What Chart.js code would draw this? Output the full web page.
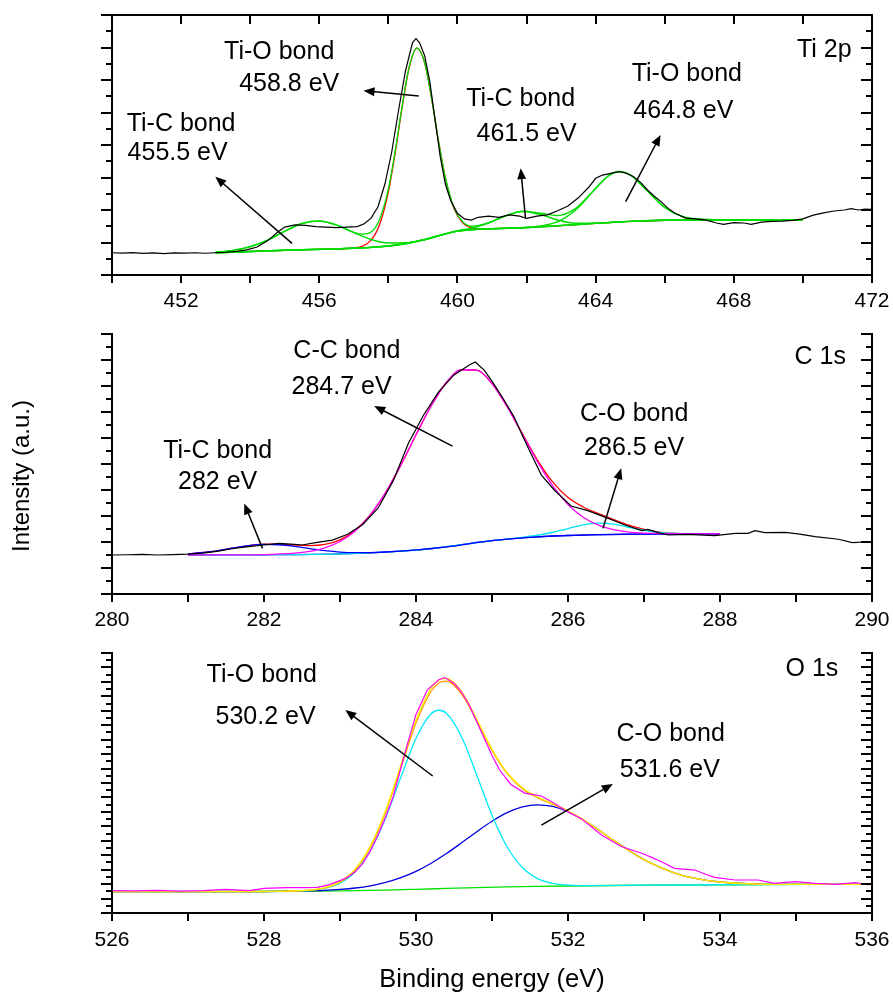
<!DOCTYPE html>
<html>
<head>
<meta charset="utf-8">
<script src="https://cdn.jsdelivr.net/npm/chart.js@4.4.1/dist/chart.umd.min.js"></script>
<style>
  html, body { margin: 0; padding: 0; background: #fff; }
  #wrap { position: relative; width: 893px; height: 994px; }
  canvas { position: absolute; left: 0; }
</style>
</head>
<body>
<div id="wrap">
  <canvas id="ti2p" width="893" height="320" style="top:0px"></canvas>
  <canvas id="c1s" width="893" height="320" style="top:320px"></canvas>
  <canvas id="o1s" width="893" height="354" style="top:640px"></canvas>
</div>
<script>
// ---- Ti 2p : [binding energy, intensity] ----
const ti2pRaw = [[450,1.37],[450.3,1.35],[450.6,1.38],[450.9,1.33],[451.2,1.36],[451.5,1.32],[451.8,1.36],[452.1,1.35],[452.4,1.37],[452.7,1.34],[453,1.37],[453.3,1.4],[453.6,1.45],[453.9,1.55],[454.2,1.72],[454.5,2.1],[454.8,2.65],[455,2.95],[455.3,3.08],[455.6,3.05],[455.9,2.98],[456.2,2.95],[456.5,2.92],[456.8,2.95],[457.1,2.98],[457.3,3.15],[457.5,3.5],[457.7,4.2],[457.9,5.6],[458.1,7.6],[458.3,10.2],[458.5,12.6],[458.7,14.3],[458.8,14.55],[458.9,14.3],[459.05,13.5],[459.2,11.9],[459.35,9.6],[459.5,7.3],[459.65,5.6],[459.8,4.6],[460,3.8],[460.2,3.45],[460.4,3.38],[460.6,3.55],[460.9,3.62],[461.2,3.55],[461.5,3.7],[461.8,3.62],[462,3.48],[462.3,3.62],[462.6,3.7],[462.9,3.95],[463.2,4.25],[463.5,4.75],[463.8,5.4],[464,5.95],[464.2,6.15],[464.5,6.28],[464.7,6.36],[464.9,6.25],[465.1,6.05],[465.3,5.7],[465.5,5.23],[465.7,4.85],[465.9,4.5],[466.1,4.1],[466.3,3.8],[466.6,3.5],[466.9,3.45],[467.2,3.38],[467.5,3.2],[467.7,3.12],[468,3.22],[468.3,3.2],[468.5,3.12],[468.8,3.25],[469.1,3.3],[469.4,3.32],[469.7,3.36],[470,3.45],[470.3,3.68],[470.6,3.82],[470.9,3.94],[471.2,4.0],[471.4,4.08],[471.6,4.0],[471.8,4.06],[472,4.04]];
const ti2pBackground = [[453,1.37],[454,1.45],[455,1.52],[456,1.58],[457,1.65],[457.5,1.7],[458,1.78],[458.5,1.92],[459,2.15],[459.5,2.45],[460,2.7],[460.5,2.8],[461,2.85],[461.5,2.88],[462,2.92],[462.5,2.97],[463,3.04],[463.5,3.11],[464,3.18],[464.5,3.25],[465,3.3],[465.5,3.34],[466,3.37],[467,3.38],[468,3.38],[469,3.38],[470,3.38]];
const ti2pTiO1 = [[453,1.37],[454,1.45],[455,1.52],[456,1.58],[457,1.67],[457.5,2.15],[457.75,3.12],[458,5.11],[458.2,7.54],[458.4,10.33],[458.6,12.74],[458.83,13.96],[459.05,13.06],[459.25,10.89],[459.45,8.26],[459.65,5.98],[459.9,4.09],[460.15,3.21],[460.4,2.9],[460.7,2.83],[461,2.85],[462,2.92],[463,3.04],[464,3.18],[465,3.3],[466,3.37],[467,3.38],[468,3.38],[470,3.38]];
const ti2pTiC1 = [[453,1.4],[453.5,1.51],[454,1.74],[454.5,2.14],[455,2.69],[455.5,3.17],[456,3.32],[456.5,3.07],[457,2.61],[457.5,2.19],[458,1.97],[458.5,1.98],[459,2.16],[459.5,2.45],[460,2.7],[461,2.85],[462,2.92],[463,3.04],[464,3.18],[465,3.3],[466,3.37],[468,3.38],[470,3.38]];
const ti2pTiC2 = [[453,1.37],[455,1.52],[457,1.65],[458,1.78],[459,2.15],[460,2.72],[460.4,2.88],[460.9,3.2],[461.4,3.65],[461.9,3.91],[462.4,3.72],[462.9,3.39],[463.4,3.19],[463.9,3.18],[464.5,3.25],[465,3.3],[466,3.37],[468,3.38],[470,3.38]];
const ti2pTiO2 = [[453,1.37],[455,1.52],[457,1.65],[458,1.78],[459,2.15],[460,2.7],[461,2.85],[462,2.92],[462.5,3.05],[463,3.38],[463.5,4.15],[464,5.34],[464.4,6.14],[464.68,6.37],[465,6.16],[465.5,5.17],[466,4.16],[466.5,3.61],[467,3.43],[468,3.38],[470,3.38]];
const ti2pEnvelope = [[453,1.4],[453.5,1.51],[454,1.74],[454.5,2.14],[455,2.69],[455.5,3.17],[456,3.32],[456.5,3.07],[457,2.63],[457.25,2.51],[457.5,2.64],[457.75,3.45],[458,5.3],[458.2,7.67],[458.4,10.41],[458.6,12.79],[458.83,13.98],[459.05,13.07],[459.25,10.89],[459.45,8.26],[459.65,6.0],[459.9,4.13],[460.15,3.28],[460.4,3.0],[460.9,3.21],[461.4,3.64],[461.9,3.93],[462.4,3.8],[462.9,3.66],[463.4,4.07],[463.9,5.09],[464.4,6.16],[464.68,6.37],[465,6.16],[465.5,5.17],[466,4.16],[466.5,3.61],[467,3.43],[468,3.38],[470,3.38]];
const ti2pTickLabels = [452, 456, 460, 464, 468, 472];

// ---- C 1s ----
const c1sRaw = [[280,3.0],[280.2,3.02],[280.4,3.05],[280.6,3.0],[280.8,3.03],[281,3.06],[281.2,3.14],[281.4,3.3],[281.6,3.5],[281.8,3.65],[282,3.77],[282.2,3.9],[282.4,3.82],[282.5,3.77],[282.7,3.97],[282.9,4.15],[283.1,4.6],[283.3,5.35],[283.5,6.6],[283.7,8.7],[283.9,11.6],[284.1,13.77],[284.3,15.56],[284.5,16.85],[284.7,17.62],[284.78,17.85],[284.9,17.2],[285.03,16.1],[285.15,15.0],[285.29,13.64],[285.4,12.2],[285.51,10.82],[285.65,9.15],[285.82,8.0],[286.04,6.77],[286.26,6.41],[286.53,5.82],[286.75,5.31],[286.97,4.87],[287.05,4.97],[287.2,4.7],[287.32,4.54],[287.58,4.59],[287.93,4.49],[288.2,4.67],[288.37,4.67],[288.46,4.87],[288.59,4.72],[288.86,4.74],[289.05,4.6],[289.25,4.41],[289.56,4.21],[289.74,3.95],[289.9,4.0],[290,4.03]];
const c1sBackground = [[281,3.0],[282,3.02],[283,3.09],[283.4,3.17],[283.8,3.3],[284,3.38],[284.2,3.48],[284.4,3.62],[284.6,3.8],[284.8,3.97],[285,4.1],[285.2,4.22],[285.4,4.32],[285.6,4.4],[285.8,4.46],[286,4.5],[286.4,4.57],[286.8,4.6],[287,4.61],[287.5,4.62],[288,4.62]];
const c1sTiC = [[281,3.09],[281.3,3.26],[281.6,3.54],[281.8,3.72],[282,3.82],[282.2,3.79],[282.4,3.67],[282.6,3.49],[282.8,3.33],[283,3.22],[283.2,3.18],[283.4,3.19],[283.8,3.3],[284.4,3.62],[285,4.1],[285.6,4.4],[286,4.5],[287,4.61],[288,4.62]];
const c1sCC = [[281,3.0],[281.6,3.01],[282,3.03],[282.4,3.14],[282.6,3.28],[282.8,3.55],[283,4.04],[283.2,4.85],[283.4,6.09],[283.6,7.8],[283.8,9.91],[284,12.25],[284.2,14.48],[284.4,16.27],[284.6,17.25],[284.8,17.22],[285,16.18],[285.2,14.41],[285.4,12.28],[285.6,10.16],[285.8,8.31],[286,6.89],[286.2,5.91],[286.4,5.3],[286.6,4.95],[286.8,4.76],[287,4.68],[287.5,4.62],[288,4.62]];
const c1sCO = [[281,3.0],[282,3.02],[283,3.09],[284,3.38],[284.6,3.8],[285,4.1],[285.4,4.36],[285.6,4.52],[285.8,4.75],[286,5.03],[286.2,5.32],[286.4,5.45],[286.6,5.37],[286.8,5.13],[287,4.9],[287.2,4.73],[287.5,4.64],[288,4.62]];
const c1sEnvelope = [[281,3.09],[281.3,3.26],[281.6,3.54],[281.8,3.72],[282,3.84],[282.2,3.84],[282.4,3.77],[282.6,3.72],[282.8,3.81],[283,4.17],[283.2,4.91],[283.4,6.11],[283.6,7.8],[283.8,9.91],[284,12.25],[284.2,14.48],[284.4,16.27],[284.6,17.25],[284.8,17.22],[285,16.18],[285.2,14.41],[285.4,12.32],[285.6,10.28],[285.8,8.6],[286,7.42],[286.2,6.69],[286.4,6.18],[286.6,5.73],[286.8,5.29],[287,4.97],[287.2,4.75],[287.5,4.64],[288,4.62]];
const c1sTickLabels = [280, 282, 284, 286, 288, 290];

// ---- O 1s ----
const o1sRaw = [[526,3.09],[526.3,3.05],[526.6,3.12],[526.9,3.03],[527.2,3.1],[527.5,3.28],[527.8,3.09],[528,3.42],[528.3,3.51],[528.5,3.5],[528.7,3.55],[528.85,3.9],[529,4.48],[529.1,4.94],[529.2,5.7],[529.3,6.88],[529.4,8.6],[529.5,10.8],[529.6,13.3],[529.7,16.1],[529.85,22.0],[530,27.5],[530.15,30.9],[530.3,32.3],[530.38,32.6],[530.5,31.8],[530.6,30.6],[530.7,28.8],[530.85,25.3],[531,21.8],[531.1,19.8],[531.25,17.8],[531.43,16.6],[531.65,16.2],[531.82,15.2],[532,14.0],[532.17,13.1],[532.3,12.0],[532.44,10.8],[532.7,9.2],[532.97,8.27],[533.1,7.7],[533.23,7.1],[533.4,6.19],[533.67,5.95],[533.8,5.4],[533.93,4.94],[534.2,4.57],[534.5,4.57],[534.72,4.11],[534.99,4.34],[535.25,4.11],[535.52,3.97],[535.78,4.2],[535.96,3.88]];
const o1sBackground = [[526,2.96],[527,2.97],[528,2.98],[529,3.05],[529.6,3.17],[530,3.28],[530.4,3.4],[530.8,3.52],[531.2,3.61],[531.6,3.68],[532,3.74],[532.6,3.81],[533,3.85],[534,3.91],[535,3.95],[536,3.97]];
const o1sTiO = [[526,2.96],[528,2.98],[528.5,3.06],[528.8,3.41],[529,4.13],[529.2,5.72],[529.4,8.65],[529.6,13.15],[529.8,18.78],[530,24.2],[530.2,27.59],[530.3,28.07],[530.4,27.65],[530.6,24.38],[530.8,19.08],[531,13.55],[531.2,9.14],[531.4,6.29],[531.6,4.76],[531.8,4.1],[532,3.86],[532.3,3.79],[533,3.85],[534,3.91],[536,3.97]];
const o1sCO = [[526,2.96],[528,2.98],[528.5,3.04],[528.8,3.13],[529,3.26],[529.2,3.46],[529.4,3.77],[529.6,4.23],[529.8,4.89],[530,5.77],[530.2,6.89],[530.4,8.23],[530.6,9.72],[530.8,11.26],[531,12.7],[531.2,13.89],[531.4,14.69],[531.6,14.98],[531.8,14.75],[532,14.02],[532.3,12.24],[532.6,10.07],[533,7.4],[533.5,5.22],[534,4.29],[534.5,4.01],[535,3.96],[536,3.97]];
const o1sEnvelope = [[526,2.96],[527,2.97],[528,2.98],[528.5,3.1],[528.8,3.52],[529,4.34],[529.2,6.1],[529.4,9.3],[529.6,14.21],[529.8,20.45],[530,26.69],[530.2,31.14],[530.3,32.25],[530.4,32.48],[530.6,30.64],[530.8,26.82],[531,22.68],[531.2,19.42],[531.4,17.33],[531.6,16.06],[531.8,15.14],[532,14.14],[532.3,12.25],[532.6,10.07],[533,7.4],[533.5,5.22],[534,4.29],[534.5,4.01],[535,3.96],[536,3.97]];
const o1sCumulative = [[526,2.96],[528,2.98],[528.5,3.08],[528.8,3.45],[529,4.25],[529.2,5.95],[529.4,9.1],[529.6,13.95],[529.8,20.1],[530,26.3],[530.2,30.7],[530.3,31.85],[530.4,32.1],[530.6,30.3],[530.8,26.6],[531,22.5],[531.2,19.3],[531.4,17.2],[531.6,15.95],[531.8,15.05],[532,14.08],[532.3,12.22],[532.6,10.05],[533,7.38],[533.5,5.2],[534,4.28],[534.5,4.0],[535,3.95],[536,3.97]];
const o1sTickLabels = [526, 528, 530, 532, 534, 536];

const FONT = '"Liberation Sans", Arial, Helvetica, sans-serif';

function line(points, color, width, order, smooth) {
  return {
    data: points.map(([x, y]) => ({ x, y })),
    borderColor: color,
    borderWidth: width,
    pointRadius: 0,
    fill: false,
    order: order,
    tension: 0,
    cubicInterpolationMode: smooth ? 'monotone' : 'default'
  };
}

// axes box, ticks, labels and arrow annotations
const axesFrame = {
  id: 'axesFrame',
  afterDatasetsDraw(chart, args, o) {
    const { ctx, chartArea: a, scales: { x, y } } = chart;
    ctx.save();
    ctx.strokeStyle = '#000';
    ctx.fillStyle = '#000';
    ctx.lineWidth = 2;

    ctx.beginPath();
    if (o.topBorder) {
      ctx.moveTo(a.left - 1, a.top);
      ctx.lineTo(a.right + 1, a.top);
    }
    ctx.moveTo(a.left, a.top - 1);
    ctx.lineTo(a.left, a.bottom);
    ctx.lineTo(a.right, a.bottom);
    ctx.lineTo(a.right, a.top - 1);
    ctx.stroke();

    ctx.beginPath();
    const nx = Math.round((x.max - x.min) / o.xStep);
    for (let i = 0; i <= nx; i++) {
      const px = Math.round(x.getPixelForValue(x.min + i * o.xStep));
      ctx.moveTo(px, a.bottom);
      ctx.lineTo(px, a.bottom + 8);
      if (o.topBorder) {
        ctx.moveTo(px, a.top);
        ctx.lineTo(px, a.top + 9);
      }
    }
    for (let v = y.min; v <= y.max; v++) {
      const py = Math.round(y.getPixelForValue(v));
      const major = v % 2 === 0;
      ctx.moveTo(a.left, py);
      ctx.lineTo(a.left - (major ? 11 : 6), py);
      ctx.moveTo(a.right, py);
      ctx.lineTo(a.right - (major ? 11 : 6), py);
    }
    ctx.stroke();

    ctx.font = '21px ' + FONT;
    ctx.textAlign = 'center';
    ctx.textBaseline = 'middle';
    o.xLabels.forEach(e => ctx.fillText(String(e), x.getPixelForValue(e), a.bottom + o.labelGap));

    ctx.font = '25px ' + FONT;
    o.notes.forEach(n => ctx.fillText(n.text, x.getPixelForValue(n.x), y.getPixelForValue(n.y)));

    ctx.lineWidth = 1.5;
    o.arrows.forEach(([x0, y0, x1, y1]) => {
      const ax = x.getPixelForValue(x0), ay = y.getPixelForValue(y0);
      const bx = x.getPixelForValue(x1), by = y.getPixelForValue(y1);
      const ang = Math.atan2(by - ay, bx - ax);
      const hl = 11, hw = 4.5;
      ctx.beginPath();
      ctx.moveTo(ax, ay);
      ctx.lineTo(bx - Math.cos(ang) * hl * 0.8, by - Math.sin(ang) * hl * 0.8);
      ctx.stroke();
      ctx.beginPath();
      ctx.moveTo(bx, by);
      ctx.lineTo(bx - Math.cos(ang) * hl - Math.sin(ang) * hw, by - Math.sin(ang) * hl + Math.cos(ang) * hw);
      ctx.lineTo(bx - Math.cos(ang) * hl + Math.sin(ang) * hw, by - Math.sin(ang) * hl - Math.cos(ang) * hw);
      ctx.closePath();
      ctx.fill();
    });

    if (o.yTitle) {
      ctx.save();
      ctx.font = '24px ' + FONT;
      ctx.translate(o.yTitle.x, o.yTitle.y);
      ctx.rotate(-Math.PI / 2);
      ctx.fillText(o.yTitle.text, 0, 0);
      ctx.restore();
    }
    if (o.xTitle) {
      ctx.font = '25.5px ' + FONT;
      ctx.textBaseline = 'alphabetic';
      ctx.fillText(o.xTitle.text, (a.left + a.right) / 2, o.xTitle.y);
    }
    ctx.restore();
  }
};

function makeChart(id, datasets, xr, yMax, padding, frame) {
  return new Chart(document.getElementById(id), {
    type: 'line',
    data: { datasets },
    options: {
      responsive: false,
      animation: false,
      events: [],
      layout: { padding },
      scales: {
        x: { type: 'linear', min: xr[0], max: xr[1], display: false },
        y: { type: 'linear', min: 0, max: yMax, display: false }
      },
      plugins: { legend: { display: false }, tooltip: { enabled: false }, axesFrame: frame }
    },
    plugins: [axesFrame]
  });
}

const GREEN = '#00dd00';

makeChart('ti2p', [
  line(ti2pRaw, '#000000', 1.2, 1, false),
  line(ti2pBackground, GREEN, 1.5, 2, true),
  line(ti2pTiO1, '#ff0000', 1.3, 3, true),
  line(ti2pTiC1, GREEN, 1.5, 2, true),
  line(ti2pTiC2, GREEN, 1.5, 2, true),
  line(ti2pTiO2, GREEN, 1.5, 2, true),
  line(ti2pEnvelope, GREEN, 1.3, 2, true)
], [450, 472], 16, { left: 112, right: 21, top: 15, bottom: 45 }, {
  topBorder: true, xStep: 2, xLabels: ti2pTickLabels, labelGap: 26,
  notes: [
    { text: 'Ti-C bond', x: 452.0, y: 9.29 },
    { text: '455.5 eV', x: 451.9, y: 7.51 },
    { text: 'Ti-O bond', x: 454.84, y: 13.69 },
    { text: '458.8 eV', x: 455.13, y: 11.75 },
    { text: 'Ti-C bond', x: 461.83, y: 10.83 },
    { text: '461.5 eV', x: 462.0, y: 8.68 },
    { text: 'Ti-O bond', x: 466.64, y: 12.37 },
    { text: '464.8 eV', x: 466.54, y: 10.09 },
    { text: 'Ti 2p', x: 470.62, y: 13.85 }
  ],
  arrows: [[455.21, 1.95, 452.99, 6.05], [458.88, 11.02, 457.28, 11.34], [461.97, 3.49, 461.83, 6.57], [464.87, 4.51, 465.88, 8.62]]
});

makeChart('c1s', [
  line(c1sRaw, '#000000', 1.2, 1, false),
  line(c1sBackground, '#0000c8', 1.3, 4, true),
  line(c1sTiC, '#0000ff', 1.3, 3, true),
  line(c1sCO, '#00e0f0', 1.3, 3, true),
  line(c1sEnvelope, '#ff0000', 1.3, 3, true),
  line(c1sCC, '#ff00ff', 1.3, 2, true)
], [280, 290], 20, { left: 112, right: 21, top: 14, bottom: 46 }, {
  topBorder: false, xStep: 1, xLabels: c1sTickLabels, labelGap: 26.5,
  notes: [
    { text: 'C-C bond', x: 283.09, y: 18.69 },
    { text: '284.7 eV', x: 283.02, y: 15.92 },
    { text: 'Ti-C bond', x: 281.39, y: 11.0 },
    { text: '282 eV', x: 281.39, y: 8.58 },
    { text: 'C-O bond', x: 286.87, y: 13.85 },
    { text: '286.5 eV', x: 286.87, y: 11.19 },
    { text: 'C 1s', x: 289.32, y: 18.19 }
  ],
  arrows: [[284.48, 11.38, 283.45, 14.46], [281.98, 3.51, 281.74, 6.97], [286.46, 5.05, 286.7, 9.67]],
  yTitle: { text: 'Intensity (a.u.)', x: 22, y: 156 }
});

makeChart('o1s', [
  line(o1sRaw, '#ff00ff', 1.2, 0, false),
  line(o1sBackground, '#00e000', 1.3, 4, true),
  line(o1sTiO, '#00e8f8', 1.3, 3, true),
  line(o1sCO, '#0000e0', 1.3, 3, true),
  line(o1sCumulative, '#ff9a00', 1.3, 2, true),
  line(o1sEnvelope, '#ffee00', 1.3, 1, true)
], [526, 536], 36, { left: 112, right: 21, top: 13, bottom: 81 }, {
  topBorder: false, xStep: 1, xLabels: o1sTickLabels, labelGap: 27,
  notes: [
    { text: 'Ti-O bond', x: 527.97, y: 32.95 },
    { text: '530.2 eV', x: 528.02, y: 27.14 },
    { text: 'C-O bond', x: 533.35, y: 24.79 },
    { text: '531.6 eV', x: 533.34, y: 19.8 },
    { text: 'O 1s', x: 535.21, y: 33.78 }
  ],
  arrows: [[530.22, 18.97, 529.07, 28.11], [531.65, 12.18, 532.59, 17.86]],
  xTitle: { text: 'Binding energy (eV)', y: 347 }
});
</script>
</body>
</html>
